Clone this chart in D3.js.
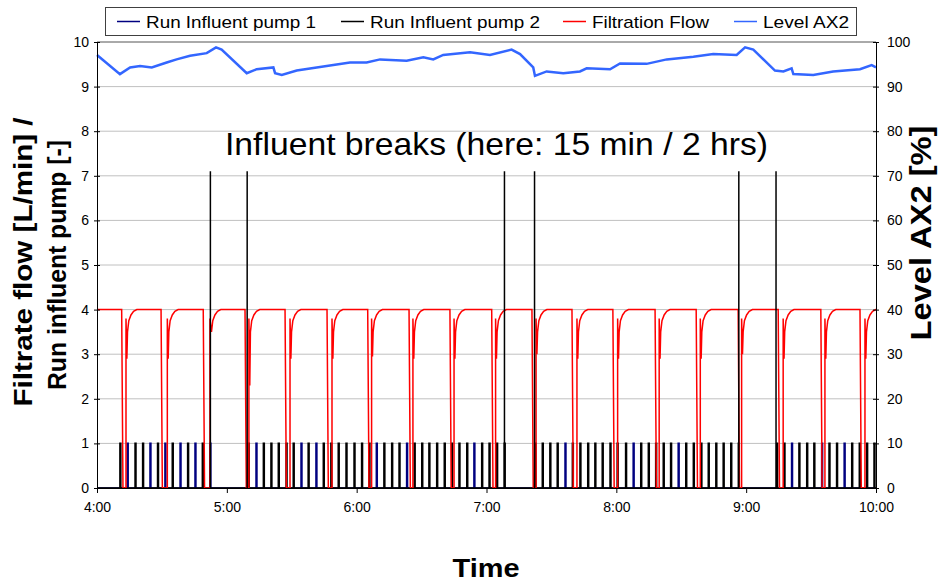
<!DOCTYPE html>
<html>
<head>
<meta charset="utf-8">
<script src="https://cdn.jsdelivr.net/npm/d3@7"></script>
<style>
  body { margin: 0; background: #fff; }
  text { font-family: "Liberation Sans", Arial, sans-serif; }
</style>
</head>
<body>
<script>
// ---- data (time in minutes after 4:00) ----
var timeTicks = ["4:00", "5:00", "6:00", "7:00", "8:00", "9:00", "10:00"];
var flowTicks = [0, 1, 2, 3, 4, 5, 6, 7, 8, 9, 10];
var levelTicks = [0, 10, 20, 30, 40, 50, 60, 70, 80, 90, 100];

// filtration flow: stop / restart of each cycle and the dip after restart
var flowStops  = [11.4, 29.6, 49.1, 68.4, 86.9, 106.3, 125.1, 144.2, 163.1, 182.4, 201.0, 219.5, 238.4, 257.9, 276.9, 296.3, 314.8, 334.5, 352.6];
var flowStarts = [13.4, 32.5, 52.2, 70.2, 89.2, 108.6, 126.9, 146.0, 165.0, 184.2, 202.9, 221.8, 240.6, 259.8, 278.8, 297.9, 317.1, 336.4, 354.9];
var flowDips   = [2.9, 2.9, 3.6, 2.3, 2.9, 2.9, 2.95, 2.9, 2.9, 2.9, 3.0, 2.9, 2.9, 2.9, 2.9, 3.0, 2.9, 2.9, 2.9];
var flowNominal = 4;
// flow just after restart (minutes after restart, L/min); the dip point is replaced per cycle
var recoveryOffset = [0, 0.4, 0.7, 1.3, 2.3, 3.5, 5.0];
var recoveryValue  = [3.8, null, 3.5, 3.75, 3.88, 3.96, 4.0];

// influent pump pulses (start minute of each run)
var pump1Runs = [14.0, 24.5, 31.4, 38.4, 45.3, 52.2, 73.5, 94.3, 101.2, 129.1, 143.1, 174.2, 216.3, 247.8, 268.6, 321.0, 334.9, 345.3];
var pump2Runs = [10.6, 17.6, 21.1, 28.0, 34.8, 41.9, 48.7,
                 69.9, 76.9, 80.4, 83.8, 87.4, 90.7, 97.6, 104.6, 108.1, 111.5, 115.1, 118.8,
                 122.3, 125.7, 132.6, 136.2, 139.6, 146.6, 150.1, 153.4, 157.0, 160.5, 163.9, 167.3, 170.9, 177.8, 181.2, 184.7, 188.2,
                 202.4, 205.8, 209.3, 212.7, 219.7, 223.2, 226.8, 230.1, 233.5, 237.1, 240.4,
                 244.3, 251.3, 254.8, 258.2, 261.7, 265.1, 272.1, 275.6, 279.1, 282.5, 286.0, 289.4, 292.9, 296.4,
                 314.1, 317.5, 324.4, 328.0, 331.3, 338.3, 341.8, 348.8, 352.3, 355.7, 359.1];
var pumpRunLength = 0.4;

// level AX2 [%]
var levelTime  = [0, 10.6, 15.3, 19.9, 25.3, 32.2, 36.8, 43.0, 50.7, 55.0, 57.6, 69.2, 73.8, 81.5, 82.3, 85.4, 92.3, 104.6, 116.9, 124.6, 130.8, 143.1, 150.8, 155.4, 160.0, 172.4, 181.6, 191.6, 195.5, 201.6, 202.4, 207.8, 215.5, 223.2, 226.3, 237.1, 241.7, 254.0, 263.3, 275.6, 284.8, 295.6, 299.5, 303.3, 313.3, 317.2, 321.0, 321.8, 331.0, 340.2, 352.6, 358.0, 360];
var levelValue = [97.1, 92.8, 94.3, 94.6, 94.3, 95.4, 96.1, 96.9, 97.5, 98.8, 98.3, 93.0, 93.9, 94.3, 93.0, 92.6, 93.6, 94.5, 95.4, 95.4, 96.1, 95.8, 96.6, 96.1, 97.1, 97.7, 97.1, 98.3, 97.3, 94.3, 92.4, 93.4, 93.0, 93.4, 94.1, 93.9, 95.2, 95.1, 96.1, 96.7, 97.3, 97.1, 98.8, 98.3, 93.6, 93.4, 94.1, 92.8, 92.6, 93.4, 93.9, 94.8, 94.3];

// influent break markers
var breakTimes = [52.4, 69.4, 188.3, 202.2, 296.6, 313.8];
var breakHeight = 7.1;

var legendItems = ["Run Influent pump 1", "Run Influent pump 2", "Filtration Flow", "Level AX2"];
var seriesColors = ["#000080", "#000000", "#ff0000", "#3366ff"];

// ---- chart ----
var width = 938, height = 583;
var plot = {left: 97, right: 876, top: 42, bottom: 488};

var svg = d3.select("body").append("svg")
    .attr("width", width)
    .attr("height", height);

var x = d3.scaleLinear().domain([0, 360]).range([plot.left, plot.right]);
var y = d3.scaleLinear().domain([0, 10]).range([plot.bottom, plot.top]);
var y2 = d3.scaleLinear().domain([0, 100]).range([plot.bottom, plot.top]);

// gridlines
svg.append("g").selectAll("line")
    .data(flowTicks.filter(function(d){ return d > 0 && d < 10; }))
    .enter().append("line")
    .attr("x1", plot.left).attr("x2", plot.right)
    .attr("y1", function(d){ return y(d); }).attr("y2", function(d){ return y(d); })
    .attr("stroke", "#c0c0c0").attr("stroke-width", 1);

// top border of plot area
svg.append("line")
    .attr("x1", plot.left).attr("x2", plot.right)
    .attr("y1", plot.top).attr("y2", plot.top)
    .attr("stroke", "#555").attr("stroke-width", 1);

// build series
var flowPts = [[0, flowNominal]];
flowStops.forEach(function(s, i){
    var st = flowStarts[i];
    flowPts.push([s, flowNominal], [s + 0.6, 0], [st, 0]);
    recoveryOffset.forEach(function(o, k){
        var v = recoveryValue[k] === null ? flowDips[i] : recoveryValue[k];
        flowPts.push([st + o, v]);
    });
});
flowPts.push([360, flowNominal]);

function pumpPts(runs){
    var pts = [[0, 0]];
    runs.forEach(function(t){
        pts.push([t, 0], [t, 1], [t + pumpRunLength, 1], [t + pumpRunLength, 0]);
    });
    pts.push([360, 0]);
    return pts;
}

var line = d3.line()
    .x(function(d){ return x(d[0]); })
    .y(function(d){ return y(d[1]); });

var levelLine = d3.line()
    .x(function(d, i){ return x(levelTime[i]); })
    .y(function(d){ return y2(d); });

svg.append("path").datum(pumpPts(pump1Runs))
    .attr("d", line).attr("fill", "none")
    .attr("stroke", seriesColors[0]).attr("stroke-width", 1.6);

svg.append("path").datum(pumpPts(pump2Runs))
    .attr("d", line).attr("fill", "none")
    .attr("stroke", seriesColors[1]).attr("stroke-width", 1.6);

svg.append("path").datum(flowPts)
    .attr("d", line).attr("fill", "none")
    .attr("stroke", seriesColors[2]).attr("stroke-width", 1.5);

svg.append("path").datum(levelValue)
    .attr("d", levelLine).attr("fill", "none")
    .attr("stroke", seriesColors[3]).attr("stroke-width", 2.5);

// break markers
svg.append("g").selectAll("line")
    .data(breakTimes)
    .enter().append("line")
    .attr("x1", function(d){ return x(d); }).attr("x2", function(d){ return x(d); })
    .attr("y1", y(0)).attr("y2", y(breakHeight))
    .attr("stroke", "#000").attr("stroke-width", 1.5);

// axes
var gL = svg.append("g")
    .attr("transform", "translate(" + plot.left + ",0)")
    .call(d3.axisLeft(y).tickValues(flowTicks).tickSize(3).tickSizeOuter(0).tickPadding(5));
gL.selectAll(".tick line").attr("x1", 3);

var gR = svg.append("g")
    .attr("transform", "translate(" + plot.right + ",0)")
    .call(d3.axisRight(y2).tickValues(levelTicks).tickSize(3).tickSizeOuter(0).tickPadding(8));
gR.selectAll(".tick line").attr("x1", -3);

var gB = svg.append("g")
    .attr("transform", "translate(0," + plot.bottom + ")")
    .call(d3.axisBottom(x).tickValues([0, 60, 120, 180, 240, 300, 360])
        .tickFormat(function(d, i){ return timeTicks[i]; })
        .tickSize(5).tickSizeOuter(0).tickPadding(9));

[gL, gR, gB].forEach(function(g){
    g.attr("font-size", 14).attr("font-family", "Liberation Sans, Arial, sans-serif");
    g.selectAll("text").attr("fill", "#000");
    g.selectAll("line, path").attr("stroke", "#000");
});

// annotation
svg.append("text")
    .attr("x", 225).attr("y", 155)
    .attr("font-size", 30.5)
    .attr("textLength", 543).attr("lengthAdjust", "spacingAndGlyphs")
    .text("Influent breaks (here: 15 min / 2 hrs)");

// axis titles
svg.append("text")
    .attr("transform", "translate(32,262) rotate(-90)")
    .attr("text-anchor", "middle")
    .attr("font-size", 26).attr("font-weight", "bold")
    .attr("textLength", 289).attr("lengthAdjust", "spacingAndGlyphs")
    .text("Filtrate flow [L/min] /");

svg.append("text")
    .attr("transform", "translate(66,265) rotate(-90)")
    .attr("text-anchor", "middle")
    .attr("font-size", 26).attr("font-weight", "bold")
    .attr("textLength", 250).attr("lengthAdjust", "spacingAndGlyphs")
    .text("Run influent pump [-]");

svg.append("text")
    .attr("transform", "translate(931,233) rotate(-90)")
    .attr("text-anchor", "middle")
    .attr("font-size", 29).attr("font-weight", "bold")
    .attr("textLength", 215).attr("lengthAdjust", "spacingAndGlyphs")
    .text("Level AX2 [%]");

svg.append("text")
    .attr("x", 486).attr("y", 577)
    .attr("text-anchor", "middle")
    .attr("font-size", 26).attr("font-weight", "bold")
    .attr("textLength", 67).attr("lengthAdjust", "spacingAndGlyphs")
    .text("Time");

// legend
var legendX = [117, 341, 563, 734];
var legendW = [170, 170, 117, 86];
var legend = svg.append("g");
legend.append("rect")
    .attr("x", 105.5).attr("y", 7.5).attr("width", 751).attr("height", 28)
    .attr("fill", "#fff").attr("stroke", "#404040").attr("stroke-width", 1);
legendItems.forEach(function(name, i){
    legend.append("line")
        .attr("x1", legendX[i]).attr("x2", legendX[i] + 23)
        .attr("y1", 21.5).attr("y2", 21.5)
        .attr("stroke", seriesColors[i]).attr("stroke-width", 1.5);
    legend.append("text")
        .attr("x", legendX[i] + 29).attr("y", 27.5)
        .attr("font-size", 17)
        .attr("textLength", legendW[i]).attr("lengthAdjust", "spacingAndGlyphs")
        .text(name);
});
</script>
</body>
</html>
